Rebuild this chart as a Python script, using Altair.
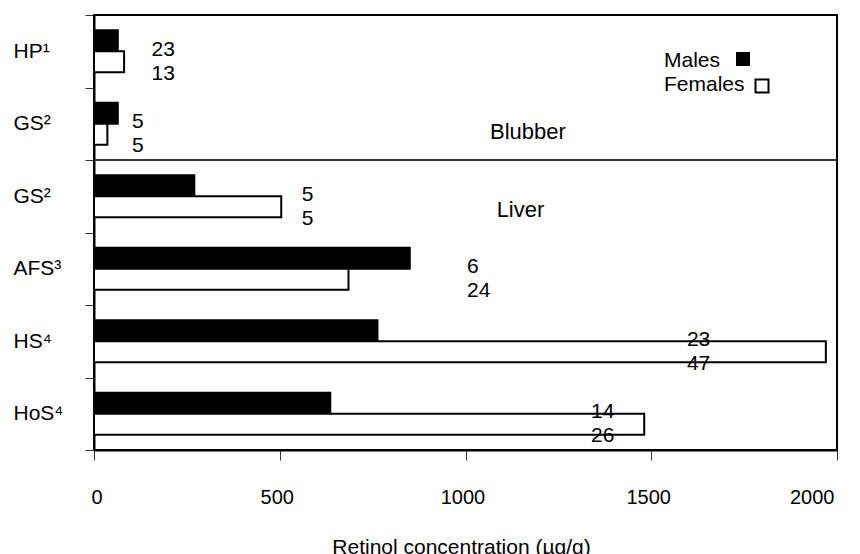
import altair as alt
import pandas as pd

# ---- data ----
tissue = ["Blubber", "Blubber", "Liver", "Liver", "Liver", "Liver"]
species = ["HP¹", "GS²", "GS²", "AFS³", "HS⁴", "HoS⁴"]
male_conc = [64, 64, 270, 850, 763, 636]
female_conc = [81, 36, 504, 685, 1970, 1481]
male_n = [23, 5, 5, 6, 23, 14]
female_n = [13, 5, 5, 24, 47, 26]
label_at = [155, 102, 559, 1004, 1596, 1338]   # where the n labels sit (x units)
x_ticks = [0, 500, 1000, 1500, 2000]
sexes = ["Males", "Females"]

keys = [f"{t}|{s}" for t, s in zip(tissue, species)]

rows = []
for k, mc, fc, mn, fn, la in zip(keys, male_conc, female_conc, male_n, female_n, label_at):
    rows.append({"row": k, "sex": "Males", "conc": mc, "n": mn, "lab": la})
    rows.append({"row": k, "sex": "Females", "conc": fc, "n": fn, "lab": la})
df = pd.DataFrame(rows)

FONT = "Liberation Sans"
FS = 20
TFS = 21

y_enc = alt.Y(
    "row:N",
    scale=alt.Scale(domain=keys, paddingInner=0, paddingOuter=0),
    axis=alt.Axis(
        title=None,
        labelExpr="split(datum.label, '|')[1]",
        tickBand="extent",
        labelAlign="left",
        labelPadding=72,
        tickSize=9,
        labelFontSize=TFS,
        labelLimit=200,
        labelColor="black",
        tickColor="#333",
        domainColor="black",
        domainWidth=2,
    ),
)
yoff = alt.YOffset("sex:N", scale=alt.Scale(domain=sexes, paddingOuter=0.72, paddingInner=0))
x_enc = alt.X(
    "conc:Q",
    scale=alt.Scale(domain=[0, 2000], nice=False),
    axis=alt.Axis(
        values=x_ticks,
        format="d",
        title="Retinol concentration (µg/g)",
        grid=False,
        tickSize=10,
        labelPadding=27,
        labelOffset=-3,
        titleX=367,
        titleY=103,
        titleAlign="center",
        titleBaseline="alphabetic",
        labelFontSize=FS,
        titleFontSize=TFS,
        titleFontWeight="normal",
        labelColor="black",
        titleColor="black",
        tickColor="#333",
        domainColor="black",
        domainWidth=2,
    ),
)

base = alt.Chart(df)

bars = base.mark_bar(stroke="black", strokeWidth=2).encode(
    x=x_enc,
    y=y_enc,
    yOffset=yoff,
    fill=alt.Fill("sex:N", scale=alt.Scale(domain=sexes, range=["black", "white"]), legend=None),
)

lab_m = base.transform_filter(alt.datum.sex == "Males").mark_text(
    align="left", baseline="middle", dy=9, fontSize=TFS, font=FONT, color="black"
).encode(x="lab:Q", y="row:N", yOffset=yoff, text="n:Q")

lab_f = base.transform_filter(alt.datum.sex == "Females").mark_text(
    align="left", baseline="middle", dy=12, fontSize=TFS, font=FONT, color="black"
).encode(x="lab:Q", y="row:N", yOffset=yoff, text="n:Q")

# divider between blubber and liver
div_df = pd.DataFrame({"row": [keys[2]]})
divider = alt.Chart(div_df).mark_rule(color="#333", strokeWidth=2).encode(
    y=alt.Y("row:N", bandPosition=0)
)

# section titles
sec_df = pd.DataFrame({"row": [keys[1], keys[2]], "txt": ["Blubber", "Liver"], "xc": [1168, 1148]})
sec_b = alt.Chart(sec_df.iloc[[0]]).mark_text(fontSize=TFS + 1, font=FONT, color="black", dy=8).encode(
    x="xc:Q", y="row:N", text="txt:N"
)
sec_l = alt.Chart(sec_df.iloc[[1]]).mark_text(fontSize=TFS + 1, font=FONT, color="black", dy=14).encode(
    x="xc:Q", y="row:N", text="txt:N"
)

# legend drawn inside the plot
leg_df = pd.DataFrame({"sex": sexes})
leg_tm = alt.Chart(leg_df.iloc[[0]]).mark_text(align="left", baseline="middle", fontSize=TFS, font=FONT, color="black").encode(
    x=alt.value(570), y=alt.value(46), text="sex:N"
)
leg_tf = alt.Chart(leg_df.iloc[[1]]).mark_text(align="left", baseline="middle", fontSize=TFS, font=FONT, color="black").encode(
    x=alt.value(570), y=alt.value(70), text="sex:N"
)
leg_m = alt.Chart(leg_df.iloc[[0]]).mark_point(shape="square", filled=True, size=196, color="black", opacity=1).encode(
    x=alt.value(649), y=alt.value(44)
)
leg_f = alt.Chart(leg_df.iloc[[1]]).mark_point(shape="square", filled=False, size=169, color="black", strokeWidth=2, fill="white", opacity=1).encode(
    x=alt.value(668), y=alt.value(71)
)

chart = alt.layer(bars, lab_m, lab_f, divider, sec_b, sec_l, leg_tm, leg_tf, leg_m, leg_f).properties(
    width=743, height=435, padding={"left": 5, "top": -4, "right": 0, "bottom": 0}
).configure_view(stroke="black", strokeWidth=2).configure_axis(
    labelFont=FONT, titleFont=FONT
).configure_text(font=FONT)

chart.save("out.html", embed_options={"renderer": "svg", "actions": False})
